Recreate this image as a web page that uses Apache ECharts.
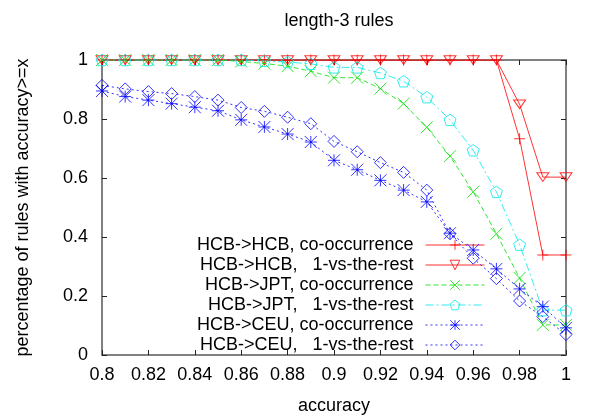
<!DOCTYPE html>
<html>
<head>
<meta charset="utf-8">
<script src="https://cdn.jsdelivr.net/npm/echarts@6/dist/echarts.min.js"></script>
<style>html,body{margin:0;padding:0;background:#fff;}#c{width:600px;height:420px;}</style>
</head>
<body>
<div id="c"></div>
<script>
// ---- data ----
const accuracy = [0.80,0.81,0.82,0.83,0.84,0.85,0.86,0.87,0.88,0.89,0.90,0.91,0.92,0.93,0.94,0.95,0.96,0.97,0.98,0.99,1.00];
const seriesNames = [
  'HCB->HCB, co-occurrence',
  'HCB->HCB,   1-vs-the-rest',
  'HCB->JPT, co-occurrence',
  'HCB->JPT,   1-vs-the-rest',
  'HCB->CEU, co-occurrence',
  'HCB->CEU,   1-vs-the-rest'
];
const hcbCo  = [1,1,1,1,1,1,1,1,1,1,1,1,1,1,1,1,1,1,0.733,0.339,0.339];
const hcb1vr = [1,1,1,1,1,1,1,1,1,1,1,1,1,1,1,1,1,1,0.85,0.603,0.603];
const jptCo  = [1,1,1,1,1,1,0.995,0.988,0.979,0.962,0.94,0.94,0.903,0.852,0.772,0.674,0.553,0.411,0.261,0.102,0.102];
const jpt1vr = [1,1,1,1,1,1,1,0.997,0.993,0.987,0.975,0.975,0.956,0.928,0.874,0.797,0.694,0.553,0.374,0.152,0.152];
const ceuCo  = [0.895,0.876,0.864,0.852,0.84,0.828,0.797,0.773,0.749,0.722,0.66,0.628,0.592,0.559,0.519,0.413,0.356,0.292,0.224,0.164,0.092];
const ceu1vr = [0.914,0.902,0.893,0.886,0.876,0.864,0.839,0.826,0.806,0.784,0.724,0.689,0.652,0.619,0.559,0.411,0.328,0.259,0.183,0.13,0.069];
const xTicks = {min: 0.8, max: 1, step: 0.02};
const yTicks = {min: 0, max: 1, step: 0.2};
const titleText = 'length-3 rules';
const xName = 'accuracy';
const yName = 'percentage of rules with accuracy>=x';

// ---- styles ----
const FONT = 'Liberation Sans';
const FS = 18;
const AX = '#808080';
const sym = {
  plus: 'path://M0,5L10,5M5,0L5,10',
  tri: 'path://M0,0L10,0L5,8.66Z',
  cross: 'path://M0,0L10,10M0,10L10,0',
  pent: 'path://M5,0L9.755,3.455L7.939,9.045L2.061,9.045L0.245,3.455Z',
  star: 'path://M0,5L10,5M5,0L5,10M0,0L10,10M0,10L10,0',
  diamond: 'diamond'
};
const styles = [
  {c:'rgba(255,0,0,0.8)', s:sym.plus, size:[11,11], dash:'solid'},
  {c:'rgba(255,0,0,0.8)', s:sym.tri, size:[12,10], dash:'solid'},
  {c:'rgba(0,224,0,0.8)', s:sym.cross, size:[12,12], dash:[5,3]},
  {c:'rgba(0,232,232,0.8)', s:sym.pent, size:[12,12], dash:[8,3,2,3]},
  {c:'rgba(0,0,255,0.8)', s:sym.star, size:[12,12], dash:[2,3]},
  {c:'rgba(0,0,255,0.8)', s:sym.diamond, size:[12,12], dash:[2,3]}
];
const values = [hcbCo, hcb1vr, jptCo, jpt1vr, ceuCo, ceu1vr];

const series = values.map((v, i) => ({
  name: seriesNames[i],
  type: 'line',
  xAxisIndex: 0, yAxisIndex: 0,
  data: accuracy.map((x, k) => [x, v[k]]),
  symbol: styles[i].s,
  symbolSize: styles[i].size,
  symbolKeepAspect: true,
  showAllSymbol: true,
  showSymbol: true,
  lineStyle: {color: styles[i].c, width: 1, type: styles[i].dash},
  itemStyle: {color: 'none', borderColor: styles[i].c, borderWidth: 1, borderType: 'solid'},
  emphasis: {disabled: true},
  silent: true,
  z: 2 + i
}));

const legendData = seriesNames.map((n, i) => ({
  name: n,
  itemStyle: {color: 'none', borderColor: styles[i].c, borderWidth: 1, borderType: 'solid'},
  lineStyle: {color: styles[i].c, width: 1, type: styles[i].dash}
}));

const labelStyle = {color: '#000', fontFamily: FONT, fontSize: FS};
const chart = echarts.init(document.getElementById('c'), null, {renderer: 'canvas'});
chart.setOption({
  animation: false,
  backgroundColor: '#fff',
  title: {text: titleText, left: 334, top: 7, textAlign: 'center',
    textStyle: {color: '#000', fontFamily: FONT, fontSize: FS, fontWeight: 'normal'}},
  grid: {left: 102, right: 34, top: 60, bottom: 60, containLabel: false},
  legend: {
    orient: 'vertical', align: 'right', right: 115, top: 236, padding: 0,
    itemWidth: 59, itemHeight: 12, itemGap: 2,
    formatter: n => '{t|' + n + '}',
    textStyle: {color: '#000', fontFamily: FONT, fontSize: FS,
      rich: {t: {fontFamily: FONT, fontSize: FS, color: '#000', padding: [0, 7, 0, 0], lineHeight: 20}}},
    selectedMode: false,
    data: legendData
  },
  xAxis: [
    {type: 'value', min: xTicks.min, max: xTicks.max, interval: xTicks.step, position: 'bottom',
     name: xName, nameLocation: 'middle', nameGap: 42, nameTextStyle: labelStyle,
     axisLine: {show: true, onZero: false, lineStyle: {color: AX, width: 2}},
     axisTick: {show: true, inside: true, length: 5, lineStyle: {color: '#222'}},
     axisLabel: Object.assign({margin: 11}, labelStyle),
     splitLine: {show: false}},
    {type: 'value', min: xTicks.min, max: xTicks.max, interval: xTicks.step, position: 'top',
     axisLine: {show: true, onZero: false, lineStyle: {color: AX, width: 2}},
     axisTick: {show: true, inside: true, length: 5, lineStyle: {color: '#222'}},
     axisLabel: {show: false}, splitLine: {show: false}}
  ],
  yAxis: [
    {type: 'value', min: yTicks.min, max: yTicks.max, interval: yTicks.step, position: 'left',
     name: yName, nameLocation: 'middle', nameGap: 70, nameRotate: 90, nameTextStyle: labelStyle,
     axisLine: {show: true, onZero: false, lineStyle: {color: AX, width: 2}},
     axisTick: {show: true, inside: true, length: 5, lineStyle: {color: '#222'}},
     axisLabel: Object.assign({margin: 14}, labelStyle),
     splitLine: {show: false}},
    {type: 'value', min: yTicks.min, max: yTicks.max, interval: yTicks.step, position: 'right',
     axisLine: {show: true, onZero: false, lineStyle: {color: AX, width: 2}},
     axisTick: {show: true, inside: true, length: 5, lineStyle: {color: '#222'}},
     axisLabel: {show: false}, splitLine: {show: false}}
  ],
  series: series
});
</script>
</body>
</html>
